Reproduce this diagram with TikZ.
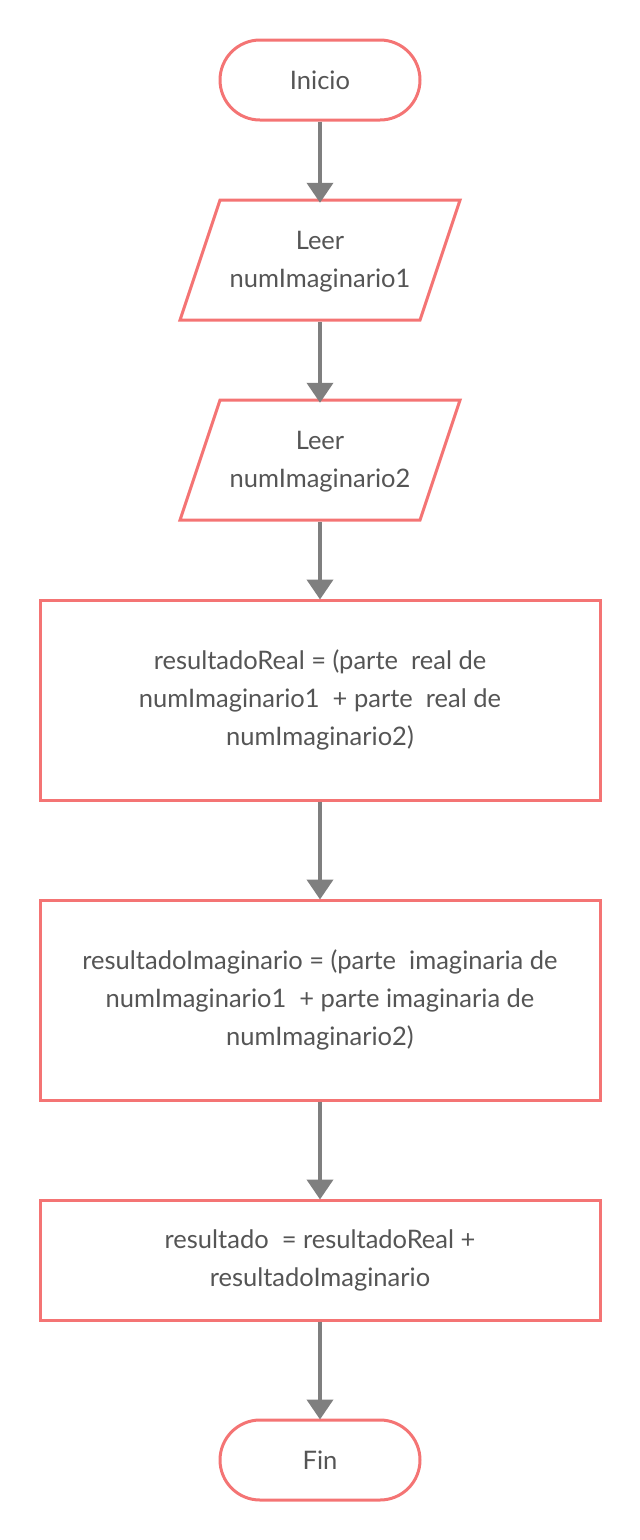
\documentclass[tikz,border=0pt]{standalone}
\usepackage{fontspec}
\setmainfont{Lato}
\usetikzlibrary{arrows.meta}
\definecolor{shapered}{HTML}{F47474}
\definecolor{arrowgray}{HTML}{7F7F7F}
\definecolor{txtgray}{HTML}{555555}
\tikzset{
  base/.style={text=txtgray, font=\fontsize{25.5}{38}\selectfont, align=center, inner sep=0pt},
  term/.style={base, draw=shapered, line width=3pt, rounded corners=40pt, minimum width=200pt, minimum height=80pt, fill=white},
  procbox/.style={base, draw=shapered, line width=3pt, minimum width=560pt, fill=white},
  iobox/.style={base, draw=none, minimum width=240pt, minimum height=120pt},
  para/.style={draw=shapered, line width=3pt, line join=miter, fill=white},
  flow/.style={draw=arrowgray, line width=4pt, -{Triangle[width=26pt,length=20pt]}, shorten >=-1pt}
}
\begin{document}
\begin{tikzpicture}[x=1pt,y=-1pt]
\useasboundingbox (0,0) rectangle (640,1540);
\node[term] (ini) at (320,80) {Inicio};
% parallelogram 1
\draw[para] (220,200) -- (460,200) -- (420,320) -- (180,320) -- cycle;
\node[iobox] (p1) at (320,262) {Leer\\numImaginario1};
% parallelogram 2
\draw[para] (220,400) -- (460,400) -- (420,520) -- (180,520) -- cycle;
\node[iobox] (p2) at (320,462) {Leer\\numImaginario2};
\node[procbox, minimum height=200pt] (r1) at (320,700) {resultadoReal = (parte\ \ real de\\numImaginario1\ \ + parte\ \ real de\\numImaginario2)};
\node[procbox, minimum height=200pt] (r2) at (320,1000) {resultadoImaginario = (parte\ \ imaginaria de\\numImaginario1\ \ + parte imaginaria de\\numImaginario2)};
\node[procbox, minimum height=120pt] (r3) at (320,1260) {resultado\ \ = resultadoReal +\\resultadoImaginario};
\node[term] (fin) at (320,1460) {Fin};
\draw[flow] (ini.south) -- (p1.north);
\draw[flow] (p1.south) -- (p2.north);
\draw[flow] (p2.south) -- (r1.north);
\draw[flow] (r1.south) -- (r2.north);
\draw[flow] (r2.south) -- (r3.north);
\draw[flow] (r3.south) -- (fin.north);
\end{tikzpicture}
\end{document}
